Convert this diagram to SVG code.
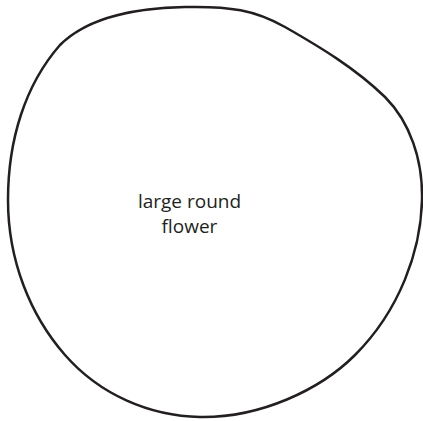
<svg xmlns="http://www.w3.org/2000/svg" width="423" height="421" viewBox="0 0 423 421">
<style>
.outline{fill:#fff;stroke:#231f20;stroke-width:2.5}
.lbl{font-family:"Open Sans","Noto Sans",sans-serif;font-size:19px;fill:#231f20;text-anchor:middle}
</style>
<rect width="423" height="421" fill="#fff"/>
<g id="flower">
<path class="outline" d="M185,7 C230,6 255,10 285,27 C320,47 355,68 385,97 C410,122 423,160 422,200 C421,250 400,310 355,355 C320,390 260,418 200,417 C150,416 100,395 65,355 C30,315 8,260 8,200 C8,140 25,85 60,45 C90,15 140,8 185,7 Z"/>
<text class="lbl" x="189.5" y="208">large round</text>
<text class="lbl" x="189.5" y="233">flower</text>
</g>
</svg>
